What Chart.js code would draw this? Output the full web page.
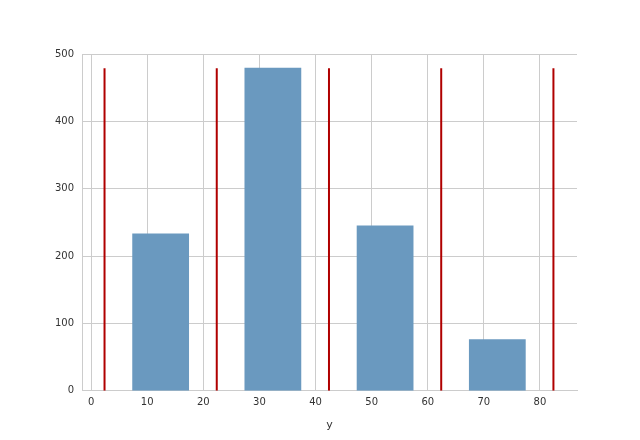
<!DOCTYPE html><html><head><script src="https://cdn.jsdelivr.net/npm/chart.js@4"></script>
<style>body{margin:0;background:#fff}#w{width:640px;height:440px}</style></head><body><div id="w"><canvas id="c"></canvas></div><script>
const binEdges=[2.4,22.4,42.4,62.4,82.4];
const counts=[233,479,245,76];
const lineTop=479;
const xTicks=[0,10,20,30,40,50,60,70,80];
const bars=counts.map((v,i)=>({x:(binEdges[i]+binEdges[i+1])/2,y:v}));
const lines=binEdges.map(e=>({type:'line',data:[{x:e,y:0},{x:e,y:lineTop}],borderColor:'#b00000',borderWidth:2,pointRadius:0,fill:false}));
new Chart(document.getElementById('c'),{type:'bar',data:{datasets:[{data:bars,backgroundColor:'#6a99bf',barPercentage:1,categoryPercentage:1,borderWidth:0},...lines]},
options:{responsive:true,maintainAspectRatio:false,animation:false,events:[],
layout:{padding:{left:47,right:63,top:54,bottom:4}},
plugins:{legend:{display:false},tooltip:{enabled:false}},
scales:{x:{type:'linear',offset:false,min:-1.6,max:86.6,afterBuildTicks:a=>{a.ticks=xTicks.map(v=>({value:v}))},
grid:{color:'#cccccc',drawTicks:false,offset:false},border:{color:'#cccccc'},ticks:{color:'#333',font:{family:'DejaVu Sans',size:10},padding:6},
title:{display:true,text:'y',color:'#333',font:{family:'DejaVu Sans',size:11},padding:{top:4}}},
y:{min:0,max:500,ticks:{stepSize:100,color:'#333',font:{family:'DejaVu Sans',size:10},padding:8},grid:{color:'#cccccc',drawTicks:false},border:{color:'#cccccc'}}}}});
</script></body></html>
